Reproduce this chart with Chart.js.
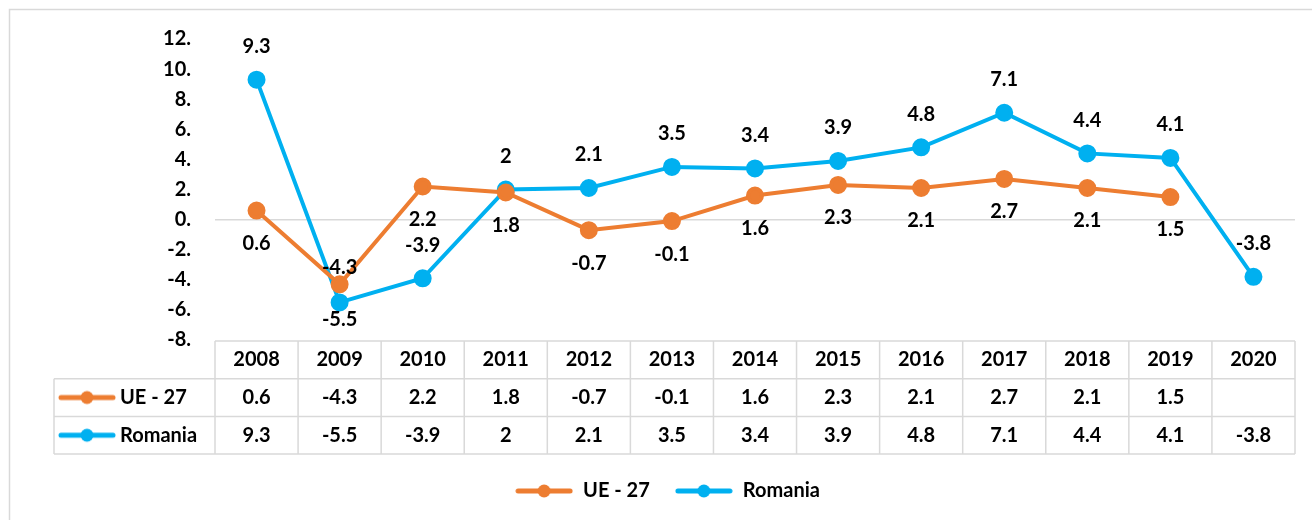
<!DOCTYPE html>
<html>
<head>
<meta charset="utf-8">
<script src="https://cdn.jsdelivr.net/npm/chart.js@4/dist/chart.umd.min.js"></script>
<style>
html, body { margin: 0; padding: 0; background: #fff; }
</style>
</head>
<body>
<canvas id="chart" width="1312" height="520"></canvas>
<script>
// values
const years = ['2008', '2009', '2010', '2011', '2012', '2013', '2014', '2015', '2016', '2017', '2018', '2019', '2020'];
const ueValues = [0.6, -4.3, 2.2, 1.8, -0.7, -0.1, 1.6, 2.3, 2.1, 2.7, 2.1, 1.5, null];
const roValues = [9.3, -5.5, -3.9, 2, 2.1, 3.5, 3.4, 3.9, 4.8, 7.1, 4.4, 4.1, -3.8];
const seriesNames = ['UE - 27', 'Romania'];

// where each data label sits relative to its point
const ueLabelSide = ['below', 'above', 'below', 'below', 'below', 'below', 'below', 'below', 'below', 'below', 'below', 'below', 'below'];
const roLabelSide = ['above', 'below', 'above', 'above', 'above', 'above', 'above', 'above', 'above', 'above', 'above', 'above', 'above'];

const ORANGE = '#ED7D31';
const BLUE = '#00B0F0';
const GRID = '#d9d9d9';

Chart.defaults.font.family = 'Lato';
Chart.defaults.font.weight = 'bold';
Chart.defaults.font.size = 20;
Chart.defaults.color = '#000';

function makeKey(color) {
    const c = document.createElement('canvas');
    c.width = 58;
    c.height = 16;
    const g = c.getContext('2d');
    g.strokeStyle = color;
    g.lineWidth = 5;
    g.lineCap = 'round';
    g.beginPath();
    g.moveTo(3, 8);
    g.lineTo(55, 8);
    g.stroke();
    g.fillStyle = color;
    g.beginPath();
    g.arc(29, 8, 6.5, 0, Math.PI * 2);
    g.fill();
    return c;
}
const keys = [makeKey(ORANGE), makeKey(BLUE)];

const frame = {
    id: 'frame',
    beforeDraw(chart) {
        const ctx = chart.ctx;
        ctx.save();
        ctx.strokeStyle = GRID;
        ctx.lineWidth = 1.5;
        ctx.strokeRect(9.5, 9.5, 1330, 540);
        ctx.restore();
    }
};

const pointLabels = {
    id: 'pointLabels',
    afterDatasetsDraw(chart) {
        const ctx = chart.ctx;
        const sides = [ueLabelSide, roLabelSide];
        ctx.save();
        ctx.font = 'bold 20px Lato';
        ctx.fillStyle = '#000';
        ctx.textAlign = 'center';
        ctx.textBaseline = 'middle';
        chart.data.datasets.forEach((ds, di) => {
            const meta = chart.getDatasetMeta(di);
            meta.data.forEach((pt, i) => {
                const v = ds.data[i];
                if (v === null || v === undefined) return;
                const above = sides[di][i] === 'above';
                const flipped = (di === 0 && above) || (di === 1 && !above);
                const off = flipped ? 17 : 33;
                ctx.fillText(String(v), pt.x, above ? pt.y - off : pt.y + off);
            });
        });
        ctx.restore();
    }
};

const dataTable = {
    id: 'dataTable',
    afterDraw(chart) {
        const {ctx, chartArea} = chart;
        const x = chart.scales.x;
        const half = (x.getPixelForTick(1) - x.getPixelForTick(0)) / 2;
        const left = chartArea.left;
        const right = chartArea.right;
        const keyLeft = 54;
        const top = chartArea.bottom + 1;
        const rowH = 37.7;
        const rows = [top, top + rowH, top + rowH * 2, top + rowH * 3];
        const series = [ueValues, roValues];

        ctx.save();
        ctx.strokeStyle = GRID;
        ctx.lineWidth = 1.5;
        ctx.beginPath();
        ctx.moveTo(left, rows[0]);
        ctx.lineTo(right, rows[0]);
        for (let r = 1; r < rows.length; r++) {
            ctx.moveTo(keyLeft, rows[r]);
            ctx.lineTo(right, rows[r]);
        }
        ctx.moveTo(keyLeft, rows[1]);
        ctx.lineTo(keyLeft, rows[3]);
        for (let i = 0; i < years.length; i++) {
            const cx = x.getPixelForTick(i);
            ctx.moveTo(cx - half, rows[0]);
            ctx.lineTo(cx - half, rows[3]);
        }
        ctx.moveTo(right, rows[0]);
        ctx.lineTo(right, rows[3]);
        ctx.stroke();

        ctx.font = 'bold 20px Lato';
        ctx.fillStyle = '#000';
        ctx.textBaseline = 'middle';
        ctx.textAlign = 'center';
        years.forEach((y, i) => {
            const cx = x.getPixelForTick(i);
            ctx.fillText(y, cx, rows[0] + rowH / 2);
            series.forEach((vals, s) => {
                const v = vals[i];
                if (v === null) return;
                ctx.fillText(String(v), cx, rows[s + 1] + rowH / 2);
            });
        });
        ctx.textAlign = 'left';
        seriesNames.forEach((name, s) => {
            const cy = rows[s + 1] + rowH / 2;
            ctx.drawImage(keys[s], 58, cy - keys[s].height / 2);
            ctx.fillText(name, 120, cy);
        });
        ctx.restore();
    }
};

new Chart(document.getElementById('chart').getContext('2d'), {
    type: 'line',
    data: {
        labels: years,
        datasets: [{
            label: seriesNames[0],
            data: ueValues,
            borderColor: ORANGE,
            backgroundColor: ORANGE,
            pointBackgroundColor: ORANGE,
            borderWidth: 4,
            pointRadius: 7,
            tension: 0
        }, {
            label: seriesNames[1],
            data: roValues,
            borderColor: BLUE,
            backgroundColor: BLUE,
            pointBackgroundColor: BLUE,
            borderWidth: 4,
            pointRadius: 7,
            tension: 0
        }]
    },
    options: {
        responsive: false,
        animation: false,
        layout: {
            padding: {top: 39, left: 40, right: 17, bottom: 9}
        },
        scales: {
            x: {
                offset: true,
                ticks: {display: false},
                grid: {display: false},
                border: {display: false},
                afterFit: (s) => { s.height = 116; }
            },
            y: {
                min: -8,
                max: 12,
                ticks: {
                    stepSize: 2,
                    padding: 24,
                    callback: (v) => v + '.'
                },
                grid: {
                    drawTicks: false,
                    lineWidth: 1.5,
                    color: (c) => (c.tick && c.tick.value === 0 ? GRID : 'rgba(0,0,0,0)')
                },
                border: {display: false},
                afterFit: (s) => { s.width = 175; }
            }
        },
        plugins: {
            tooltip: {enabled: false},
            legend: {
                position: 'bottom',
                labels: {
                    usePointStyle: true,
                    pointStyleWidth: 58,
                    padding: 25,
                    generateLabels: (chart) => {
                        const items = Chart.defaults.plugins.legend.labels.generateLabels(chart);
                        items.forEach((it, i) => { it.pointStyle = keys[i]; });
                        return items;
                    }
                }
            }
        }
    },
    plugins: [frame, pointLabels, dataTable]
});
</script>
</body>
</html>
